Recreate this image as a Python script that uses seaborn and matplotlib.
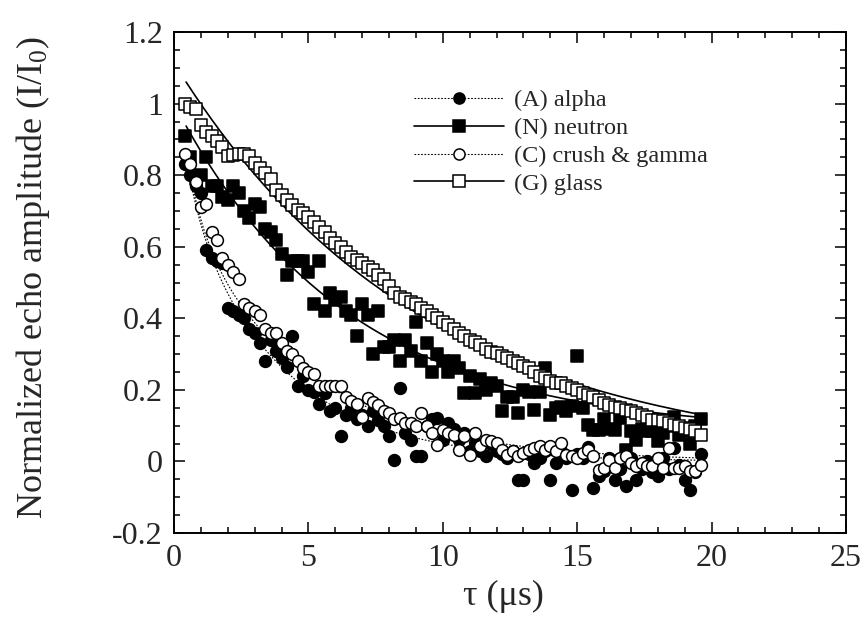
import numpy as np
import pandas as pd
import matplotlib
matplotlib.use("Agg")
import matplotlib.pyplot as plt
from matplotlib.ticker import MultipleLocator
from matplotlib.lines import Line2D
import seaborn as sns

# Echo delay times (microseconds)
tau = [0.4, 0.6, 0.8, 1.0, 1.2, 1.4, 1.6, 1.8, 2.0, 2.2,
       2.4, 2.6, 2.8, 3.0, 3.2, 3.4, 3.6, 3.8, 4.0, 4.2,
       4.4, 4.6, 4.8, 5.0, 5.2, 5.4, 5.6, 5.8, 6.0, 6.2,
       6.4, 6.6, 6.8, 7.0, 7.2, 7.4, 7.6, 7.8, 8.0, 8.2,
       8.4, 8.6, 8.8, 9.0, 9.2, 9.4, 9.6, 9.8, 10.0, 10.2,
       10.4, 10.6, 10.8, 11.0, 11.2, 11.4, 11.6, 11.8, 12.0, 12.2,
       12.4, 12.6, 12.8, 13.0, 13.2, 13.4, 13.6, 13.8, 14.0, 14.2,
       14.4, 14.6, 14.8, 15.0, 15.2, 15.4, 15.6, 15.8, 16.0, 16.2,
       16.4, 16.6, 16.8, 17.0, 17.2, 17.4, 17.6, 17.8, 18.0, 18.2,
       18.4, 18.6, 18.8, 19.0, 19.2, 19.4, 19.6]

alpha = [0.83, 0.80, 0.77, 0.75, 0.59, 0.57, 0.56, 0.555, 0.43, 0.42,
         0.41, 0.40, 0.37, 0.36, 0.33, 0.28, 0.34, 0.31, 0.29, 0.265,
         0.35, 0.21, 0.24, 0.20, 0.195, 0.16, 0.19, 0.14, 0.15, 0.07,
         0.13, 0.15, 0.12, 0.13, 0.10, 0.14, 0.116, 0.10, 0.07, 0.005,
         0.205, 0.08, 0.06, 0.014, 0.014, 0.10, 0.12, 0.121, 0.06, 0.107,
         0.09, 0.06, 0.08, 0.03, 0.051, 0.03, 0.014, 0.05, 0.03, 0.02,
         0.01, 0.03, -0.051, -0.051, 0.02, -0.005, 0.009, 0.03, -0.051, -0.005,
         0.03, 0.01, -0.079, 0.02, 0.01, 0.04, -0.075, -0.042, -0.028, 0.01,
         -0.051, -0.02, -0.07, 0.01, -0.051, -0.02, 0.00, -0.03, -0.042, 0.01,
         -0.02, 0.037, -0.01, -0.051, -0.079, -0.03, 0.02]

neutron = [0.91, 0.85, 0.79, 0.80, 0.85, 0.77, 0.77, 0.74, 0.73, 0.77,
           0.75, 0.70, 0.68, 0.72, 0.71, 0.65, 0.64, 0.62, 0.58, 0.52,
           0.56, 0.56, 0.56, 0.53, 0.44, 0.56, 0.42, 0.47, 0.45, 0.46,
           0.42, 0.41, 0.35, 0.44, 0.41, 0.30, 0.42, 0.32, 0.32, 0.34,
           0.28, 0.34, 0.31, 0.39, 0.28, 0.33, 0.25, 0.30, 0.28, 0.25,
           0.28, 0.26, 0.19, 0.24, 0.19, 0.23, 0.20, 0.22, 0.21, 0.14,
           0.18, 0.18, 0.135, 0.20, 0.195, 0.144, 0.195, 0.26, 0.13, 0.15,
           0.153, 0.14, 0.155, 0.295, 0.15, 0.102, 0.088, 0.088, 0.12, 0.09,
           0.088, 0.121, 0.032, 0.084, 0.06, 0.09, 0.084, 0.084, 0.056, 0.079,
           0.10, 0.125, 0.074, 0.084, 0.05, 0.10, 0.12]

crush = [0.86, 0.83, 0.78, 0.71, 0.72, 0.64, 0.62, 0.57, 0.55, 0.53,
         0.51, 0.44, 0.43, 0.42, 0.41, 0.37, 0.36, 0.36, 0.33, 0.31,
         0.30, 0.28, 0.26, 0.25, 0.245, 0.21, 0.21, 0.21, 0.21, 0.21,
         0.18, 0.17, 0.16, 0.125, 0.177, 0.165, 0.158, 0.14, 0.135, 0.12,
         0.121, 0.107, 0.107, 0.098, 0.135, 0.098, 0.079, 0.046, 0.088, 0.08,
         0.074, 0.032, 0.07, 0.018, 0.079, 0.042, 0.06, 0.056, 0.051, 0.032,
         0.018, 0.028, 0.014, 0.023, 0.032, 0.037, 0.042, 0.032, 0.042, 0.028,
         0.051, 0.018, 0.014, 0.009, 0.023, 0.032, 0.014, -0.023, -0.019, 0.005,
         -0.019, 0.009, 0.014, -0.005, -0.014, -0.005, -0.014, -0.014, 0.009, -0.019,
         0.037, -0.019, -0.019, -0.014, -0.028, -0.028, -0.01]

glass = [1.00, 0.99, 0.985, 0.94, 0.92, 0.91, 0.895, 0.88, 0.855, 0.857,
         0.86, 0.86, 0.855, 0.835, 0.82, 0.805, 0.79, 0.76, 0.745, 0.73,
         0.717, 0.703, 0.695, 0.684, 0.67, 0.656, 0.642, 0.624, 0.61, 0.60,
         0.586, 0.572, 0.563, 0.554, 0.543, 0.535, 0.52, 0.51, 0.49, 0.47,
         0.461, 0.453, 0.447, 0.44, 0.43, 0.42, 0.408, 0.40, 0.39, 0.38,
         0.37, 0.36, 0.35, 0.34, 0.335, 0.325, 0.315, 0.307, 0.302, 0.295,
         0.289, 0.28, 0.274, 0.268, 0.26, 0.25, 0.24, 0.232, 0.224, 0.22,
         0.218, 0.21, 0.205, 0.20, 0.19, 0.186, 0.18, 0.172, 0.162, 0.158,
         0.153, 0.15, 0.145, 0.14, 0.135, 0.13, 0.123, 0.117, 0.116, 0.112,
         0.108, 0.103, 0.098, 0.094, 0.09, 0.084, 0.074]

labels = ["(A) alpha", "(N) neutron", "(C) crush & gamma", "(G) glass"]

# Fitted decay parameters: y = a1*exp(-t/t1) + a2*exp(-t/t2) + c
fit_params = {
    "(A) alpha":         (0.30, 0.6, 0.80, 3.6, 0.0),
    "(N) neutron":       (0.92, 6.4, 0.0, 1.0, 0.08),
    "(C) crush & gamma": (0.40, 0.6, 0.75, 4.5, 0.0),
    "(G) glass":         (1.114, 9.15, 0.0, 1.0, 0.0),
}
fit_range = (0.45, 19.6)

sns.set_style("ticks")
plt.rcParams["font.family"] = ["Liberation Serif", "DejaVu Serif"]
plt.rcParams["mathtext.fontset"] = "custom"
plt.rcParams["mathtext.rm"] = "Liberation Serif"
plt.rcParams["mathtext.it"] = "Liberation Serif:italic"

df = pd.DataFrame({
    "tau": tau * 4,
    "amp": alpha + neutron + crush + glass,
    "sample": sum([[lab] * len(tau) for lab in labels], []),
})

t_fit = np.linspace(fit_range[0], fit_range[1], 300)
fit_rows = []
for lab in labels:
    a1, t1, a2, t2, c = fit_params[lab]
    y = a1 * np.exp(-t_fit / t1) + a2 * np.exp(-t_fit / t2) + c
    fit_rows.append(pd.DataFrame({"tau": t_fit, "amp": y, "sample": lab}))
fit_df = pd.concat(fit_rows, ignore_index=True)

fig = plt.figure(figsize=(8.67, 6.30), dpi=100)
ax = fig.add_axes([0.2007, 0.154, 0.7751, 0.795])

styles = {
    "(A) alpha":         dict(marker="o", fc="black", ls=(0, (1.5, 1.5)), lw=0.8),
    "(N) neutron":       dict(marker="s", fc="black", ls="-", lw=1.2),
    "(C) crush & gamma": dict(marker="o", fc="white", ls=(0, (1.5, 1.5)), lw=0.8),
    "(G) glass":         dict(marker="s", fc="white", ls="-", lw=1.2),
}

# fitted curves
for lab in labels:
    st = styles[lab]
    sns.lineplot(data=fit_df[fit_df["sample"] == lab], x="tau", y="amp",
                 color="black", linestyle=st["ls"], linewidth=st["lw"],
                 ax=ax, legend=False, zorder=1)

# measured echo amplitudes
for lab in labels:
    st = styles[lab]
    sns.scatterplot(data=df[df["sample"] == lab], x="tau", y="amp",
                    marker=st["marker"], color=st["fc"], edgecolor="black",
                    linewidth=1.1, s=72, ax=ax, legend=False, zorder=3)

# legend: line + marker for each sample
handles = []
for lab in labels:
    st = styles[lab]
    handles.append(Line2D([0], [0], color="black", linestyle=st["ls"],
                          linewidth=st["lw"], marker=st["marker"],
                          markerfacecolor=st["fc"], markeredgecolor="black",
                          markeredgewidth=1.1, markersize=8))
ax.legend(handles, labels, loc="upper left", bbox_to_anchor=(0.339, 0.91),
          frameon=False, fontsize=17.5, handlelength=3.7, handletextpad=0.4,
          labelspacing=0.24, borderpad=0.0)

ax.set_xlim(0, 25)
ax.set_ylim(-0.2, 1.2)
ax.xaxis.set_major_locator(MultipleLocator(5))
ax.xaxis.set_minor_locator(MultipleLocator(1))
ax.yaxis.set_minor_locator(MultipleLocator(0.05))
ax.set_yticks([-0.2, 0, 0.2, 0.4, 0.6, 0.8, 1.0, 1.2])
ax.set_yticklabels(["-0.2", "0", "0.2", "0.4", "0.6", "0.8", "1", "1.2"])
ax.tick_params(which="both", direction="in", top=True, right=True,
               labelsize=23, width=1.1, color="black", pad=8)
ax.tick_params(which="major", length=8)
ax.tick_params(which="minor", length=4)
for sp in ax.spines.values():
    sp.set_linewidth(1.4)
    sp.set_color("black")

ax.set_xlabel("τ (μs)", fontsize=26)
ax.set_ylabel("Normalized echo amplitude (I/I$_0$)", fontsize=26)
ax.xaxis.set_label_coords(0.49, -0.094)
ax.yaxis.set_label_coords(-0.182, 0.51)

fig.savefig("out.png", dpi=100, facecolor="white")
